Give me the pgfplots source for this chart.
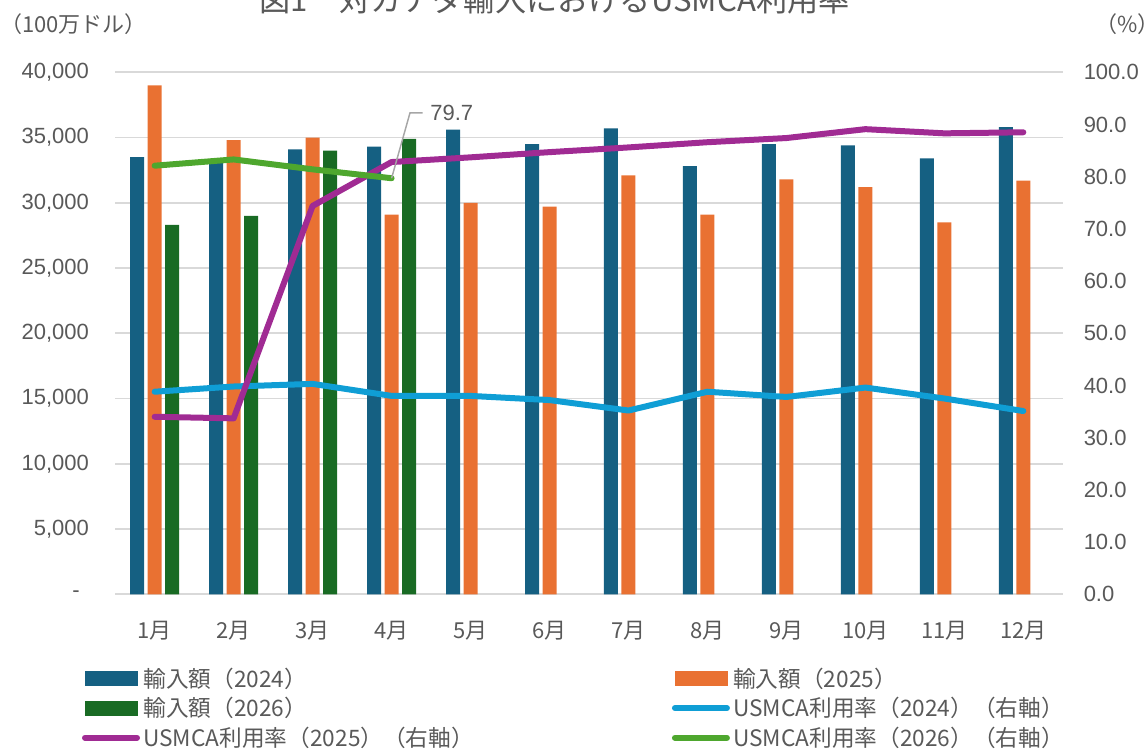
\documentclass[border=0pt]{standalone}
\usepackage{pgfplots}
\pgfplotsset{compat=1.18}
\usepackage{fontspec}
\setmainfont{Liberation Sans}
\newfontfamily\jp{Noto Sans CJK JP}
\definecolor{cA}{HTML}{156082}
\definecolor{cB}{HTML}{E97132}
\definecolor{cC}{HTML}{196B24}
\definecolor{lA}{HTML}{0F9ED5}
\definecolor{lB}{HTML}{A02B93}
\definecolor{lC}{HTML}{4EA72E}
\definecolor{gridc}{HTML}{D9D9D9}
\definecolor{txt}{HTML}{595959}
\definecolor{lead}{HTML}{A6A6A6}
\pgfplotsset{
  base/.style={
    at={(0pt,0pt)}, anchor=south west,
    scale only axis, width=710.7pt, height=391.5pt,
    xmin=-0.5, xmax=11.5,
    axis line style={draw=none},
    major tick length=0pt,
    scaled y ticks=false,
    ticklabel style={text=txt, font=\fontsize{16.5pt}{19pt}\selectfont},
  },
}
\begin{document}
\begin{tikzpicture}
\useasboundingbox (-86.4pt,-116pt) rectangle (771.6pt,445.7pt);
\clip (-86.4pt,-116pt) rectangle (771.6pt,445.7pt);
\begin{axis}[base,
  ymin=0, ymax=40000,
  xtick={0,...,11},
  xticklabels={1月,2月,3月,4月,5月,6月,7月,8月,9月,10月,11月,12月},
  xticklabel style={font=\jp\fontsize{16.5pt}{19pt}\selectfont, anchor=base, inner sep=0pt, yshift=-32.8pt},
  ytick={0,5000,10000,15000,20000,25000,30000,35000,40000},
  yticklabels={{-\hspace*{7pt}},{5,000},{10,000},{15,000},{20,000},{25,000},{30,000},{35,000},{40,000}},
  yticklabel style={anchor=east, inner sep=0pt, xshift=-19.5pt},
  ymajorgrids, grid style={draw=gridc, line width=1.2pt},
]
\addplot[ybar, bar width=10.5pt, bar shift=-13.125pt, fill=cA, draw=none] coordinates {
(0,33500) (1,33200) (2,34100) (3,34300) (4,35600) (5,34500) (6,35700) (7,32800) (8,34500) (9,34400) (10,33400) (11,35800)};
\addplot[ybar, bar width=10.5pt, bar shift=0pt, fill=cB, draw=none] coordinates {
(0,39000) (1,34800) (2,35000) (3,29100) (4,30000) (5,29700) (6,32100) (7,29100) (8,31800) (9,31200) (10,28500) (11,31700)};
\addplot[ybar, bar width=10.5pt, bar shift=13.125pt, fill=cC, draw=none] coordinates {
(0,28300) (1,29000) (2,34000) (3,34900)};
\end{axis}
\begin{axis}[base,
  ymin=0, ymax=100,
  axis x line=none, axis y line*=right,
  ytick={0,10,20,30,40,50,60,70,80,90,100},
  yticklabels={0.0,10.0,20.0,30.0,40.0,50.0,60.0,70.0,80.0,90.0,100.0},
  yticklabel style={anchor=west, inner sep=0pt, xshift=15.5pt},
  legend columns=2,
  legend style={at={(axis description cs:0,0)}, anchor=north west,
    xshift=-24.9pt, yshift=-55.1pt,
    draw=none, fill=none, inner sep=0pt, outer sep=0pt,
    font=\jp\fontsize{17pt}{20pt}\selectfont, text=txt,
    row sep=6.2pt,
    nodes={inner sep=0pt, anchor=west, text width=392pt},
    /tikz/every odd column/.style={column sep=2.5pt},
    /tikz/every even column/.style={column sep=4.45pt}},
]
\addlegendimage{legend image code/.code={\fill[cA] (0pt,-5.25pt) rectangle (39pt,5.25pt);}}
\addlegendentry{輸入額（2024）}
\addlegendimage{legend image code/.code={\fill[cB] (0pt,-5.25pt) rectangle (39pt,5.25pt);}}
\addlegendentry{輸入額（2025）}
\addlegendimage{legend image code/.code={\fill[cC] (0pt,-5.25pt) rectangle (39pt,5.25pt);}}
\addlegendentry{輸入額（2026）}
\addplot[lA, line width=4.5pt, line join=round, line cap=round,
  legend image code/.code={\draw[lA, line width=4.5pt, line cap=round] (0pt,0pt) -- (39pt,0pt);}] coordinates {
(0,38.8) (1,39.8) (2,40.3) (3,38.0) (4,38.0) (5,37.2) (6,35.2) (7,38.8) (8,37.8) (9,39.6) (10,37.5) (11,35.1)};
\addlegendentry{USMCA利用率（2024）（右軸）}
\addplot[lB, line width=4.5pt, line join=round, line cap=round,
  legend image code/.code={\draw[lB, line width=4.5pt, line cap=round] (0pt,0pt) -- (39pt,0pt);}] coordinates {
(0,34.0) (1,33.7) (2,74.4) (3,82.8) (4,83.7) (5,84.7) (6,85.6) (7,86.6) (8,87.4) (9,89.1) (10,88.3) (11,88.5)};
\addlegendentry{USMCA利用率（2025）（右軸）}
\addplot[lC, line width=4.5pt, line join=round, line cap=round,
  legend image code/.code={\draw[lC, line width=4.5pt, line cap=round] (0pt,0pt) -- (39pt,0pt);}] coordinates {
(0,82.1) (1,83.3) (2,81.4) (3,79.7)};
\addlegendentry{USMCA利用率（2026）（右軸）}
\draw[lead, line width=1.1pt] (axis cs:3,79.7) -- ++(13.8pt,49pt) -- ++(9.5pt,0pt)
  node[anchor=west, inner sep=5.25pt, text=txt, font=\fontsize{16.5pt}{19pt}\selectfont] {79.7};
\end{axis}
\node[anchor=base, text=txt, font=\jp\fontsize{23.4pt}{28pt}\selectfont] at (329.5pt,437pt) {図1　対カナダ輸入におけるUSMCA利用率};
\node[anchor=west, inner sep=0pt, text=txt, font=\jp\fontsize{16.5pt}{19pt}\selectfont] at (-86.4pt,427.7pt) {（100万ドル）};
\node[anchor=west, inner sep=0pt, text=txt, font=\jp\fontsize{16.5pt}{19pt}\selectfont] at (735pt,427.7pt) {（\%）};
\end{tikzpicture}
\end{document}
